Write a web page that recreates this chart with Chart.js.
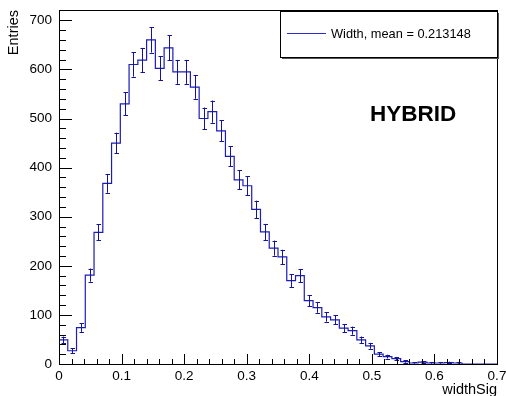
<!DOCTYPE html>
<html>
<head>
<meta charset="utf-8">
<script src="https://cdn.jsdelivr.net/npm/chart.js@4.4.1/dist/chart.umd.min.js"></script>
<style>
  html, body { margin:0; padding:0; background:#fff; }
  #wrap { width:506px; height:396px; }
</style>
</head>
<body>
<div id="wrap"><canvas id="hist"></canvas></div>
<script>
// histogram definition: 50 bins over [0, 0.7]
const xRange = [0, 0.7];
const nBins = 50;
const counts = [49,27,74,181,268,368,450,530,610,619,
                660,602,644,595,595,564,500,514,475,423,
                375,363,315,269,236,218,170,180,129,115,
                96,90,73,68,49,37,20,15,11,5,
                2,4,2,2,3,2,0,0,0,0];
const xTicks = [0, 0.1, 0.2, 0.3, 0.4, 0.5, 0.6, 0.7];
const xTickLabels = ['0','0.1','0.2','0.3','0.4','0.5','0.6','0.7'];
const yTicks = [0, 100, 200, 300, 400, 500, 600, 700];
const yTickLabels = ['0','100','200','300','400','500','600','700'];
const yMax = 721;
const legendText = 'Width, mean = 0.213148';
const tagText = 'HYBRID';
const xTitle = 'widthSig';
const yTitle = 'Entries';

const BLUE = '#1c1cb8';
const FONT = "'Liberation Sans', Arial, Helvetica, sans-serif";

const binW = (xRange[1]-xRange[0])/nBins;
const lowEdges = counts.map((_,i)=>xRange[0]+i*binW);
// stepped outline: one point per low edge, plus the closing upper edge
const outline = counts.map((c,i)=>({x:lowEdges[i], y:c}));
outline.push({x:xRange[1], y:counts[counts.length-1]});

const px = v => Math.round(v)+0.5;

// poisson error bars, frame, inward ticks, legend box, label
const rootStyle = {
  id:'rootStyle',
  afterDatasetsDraw(chart) {
    const {ctx, scales:{x, y}} = chart;
    ctx.save();
    ctx.strokeStyle = '#14149a';
    ctx.lineWidth = 1;
    counts.forEach((c,i)=>{
      if (c<=0) return;
      const e = Math.sqrt(c);
      const cx = px(x.getPixelForValue(lowEdges[i]+binW/2));
      const y1 = y.getPixelForValue(Math.max(c-e,0));
      const y2 = y.getPixelForValue(c+e);
      ctx.beginPath();
      ctx.moveTo(cx, y1); ctx.lineTo(cx, y2);
      ctx.moveTo(cx-2, px(y1)); ctx.lineTo(cx+2.5, px(y1));
      ctx.moveTo(cx-2, px(y2)); ctx.lineTo(cx+2.5, px(y2));
      ctx.stroke();
    });
    ctx.restore();
  },
  afterDraw(chart) {
    const {ctx, chartArea:a, scales:{x, y}} = chart;
    ctx.save();
    ctx.strokeStyle = '#000';
    ctx.lineWidth = 1;
    ctx.strokeRect(px(a.left), px(a.top), Math.round(a.right-a.left), Math.round(a.bottom-a.top));

    // x ticks (major + 5 subdivisions)
    ctx.beginPath();
    for (let k=0; k<xTicks.length; k++) {
      const xp = px(x.getPixelForValue(xTicks[k]));
      ctx.moveTo(xp, a.bottom); ctx.lineTo(xp, a.bottom-10);
      if (k<xTicks.length-1) {
        const step = (xTicks[k+1]-xTicks[k])/5;
        for (let j=1;j<5;j++) {
          const xm = px(x.getPixelForValue(xTicks[k]+j*step));
          ctx.moveTo(xm, a.bottom); ctx.lineTo(xm, a.bottom-5);
        }
      }
    }
    // y ticks
    for (let k=0; k<yTicks.length; k++) {
      const yp = px(y.getPixelForValue(yTicks[k]));
      ctx.moveTo(a.left, yp); ctx.lineTo(a.left+13, yp);
      for (let j=1;j<5;j++) {
        const v = yTicks[k]+j*20;
        if (v>yMax) break;
        const ym = px(y.getPixelForValue(v));
        ctx.moveTo(a.left, ym); ctx.lineTo(a.left+7, ym);
      }
    }
    ctx.stroke();

    // legend
    const L = 280, T = 11, R = 497, B = 57;
    ctx.fillStyle = '#555';
    ctx.fillRect(L+2, T+2, R-L, B-T);
    ctx.fillStyle = '#fff';
    ctx.fillRect(L, T, R-L, B-T);
    ctx.strokeStyle = '#000';
    ctx.strokeRect(L+0.5, T+0.5, R-L, B-T);
    ctx.strokeStyle = '#2a2ad0';
    ctx.beginPath();
    ctx.moveTo(287, 33.5); ctx.lineTo(326, 33.5);
    ctx.stroke();
    ctx.fillStyle = '#000';
    ctx.font = '12.8px ' + FONT;
    ctx.textBaseline = 'middle';
    ctx.textAlign = 'left';
    ctx.fillText(legendText, 331, 34);

    // tag
    ctx.font = 'bold 22.5px ' + FONT;
    ctx.textBaseline = 'alphabetic';
    ctx.fillText(tagText, 370, 121);
    ctx.restore();
  }
};

new Chart(document.getElementById('hist'), {
  type:'line',
  data:{ datasets:[{
    data: outline,
    stepped:'before',
    borderColor: BLUE,
    borderWidth: 1.2,
    pointRadius: 0,
    fill: false
  }]},
  options:{
    responsive:true, maintainAspectRatio:false, animation:false,
    devicePixelRatio:1,
    layout:{ padding:{ top:10, right:9, left:0, bottom:0 } },
    plugins:{ legend:{display:false}, tooltip:{enabled:false} },
    scales:{
      x:{
        type:'linear', min:xRange[0], max:xRange[1],
        grid:{ display:false, drawTicks:false }, border:{display:false},
        afterBuildTicks: s => { s.ticks = xTicks.map(v=>({value:v})); },
        afterFit: s => { s.height = 32; s.paddingLeft = 0; s.paddingRight = 0; },
        ticks:{ color:'#000', padding:4, maxRotation:0, autoSkip:false,
          font:{family:FONT, size:13.5},
          callback:(v,i)=>xTickLabels[i] },
        title:{ display:true, text:xTitle, align:'end', color:'#000',
          font:{family:FONT, size:14.5}, padding:{top:0, bottom:-3} }
      },
      y:{
        type:'linear', min:0, max:yMax,
        grid:{ display:false, drawTicks:false }, border:{display:false},
        afterBuildTicks: s => { s.ticks = yTicks.map(v=>({value:v})); },
        afterFit: s => { s.width = 59; s.paddingTop = 0; s.paddingBottom = 0; },
        ticks:{ color:'#000', padding:7, autoSkip:false,
          font:{family:FONT, size:13.5},
          callback:(v,i)=>yTickLabels[i] },
        title:{ display:true, text:yTitle, align:'end', color:'#000',
          font:{family:FONT, size:14.5}, padding:{top:5, bottom:0} }
      }
    }
  },
  plugins:[rootStyle]
});
</script>
</body>
</html>
